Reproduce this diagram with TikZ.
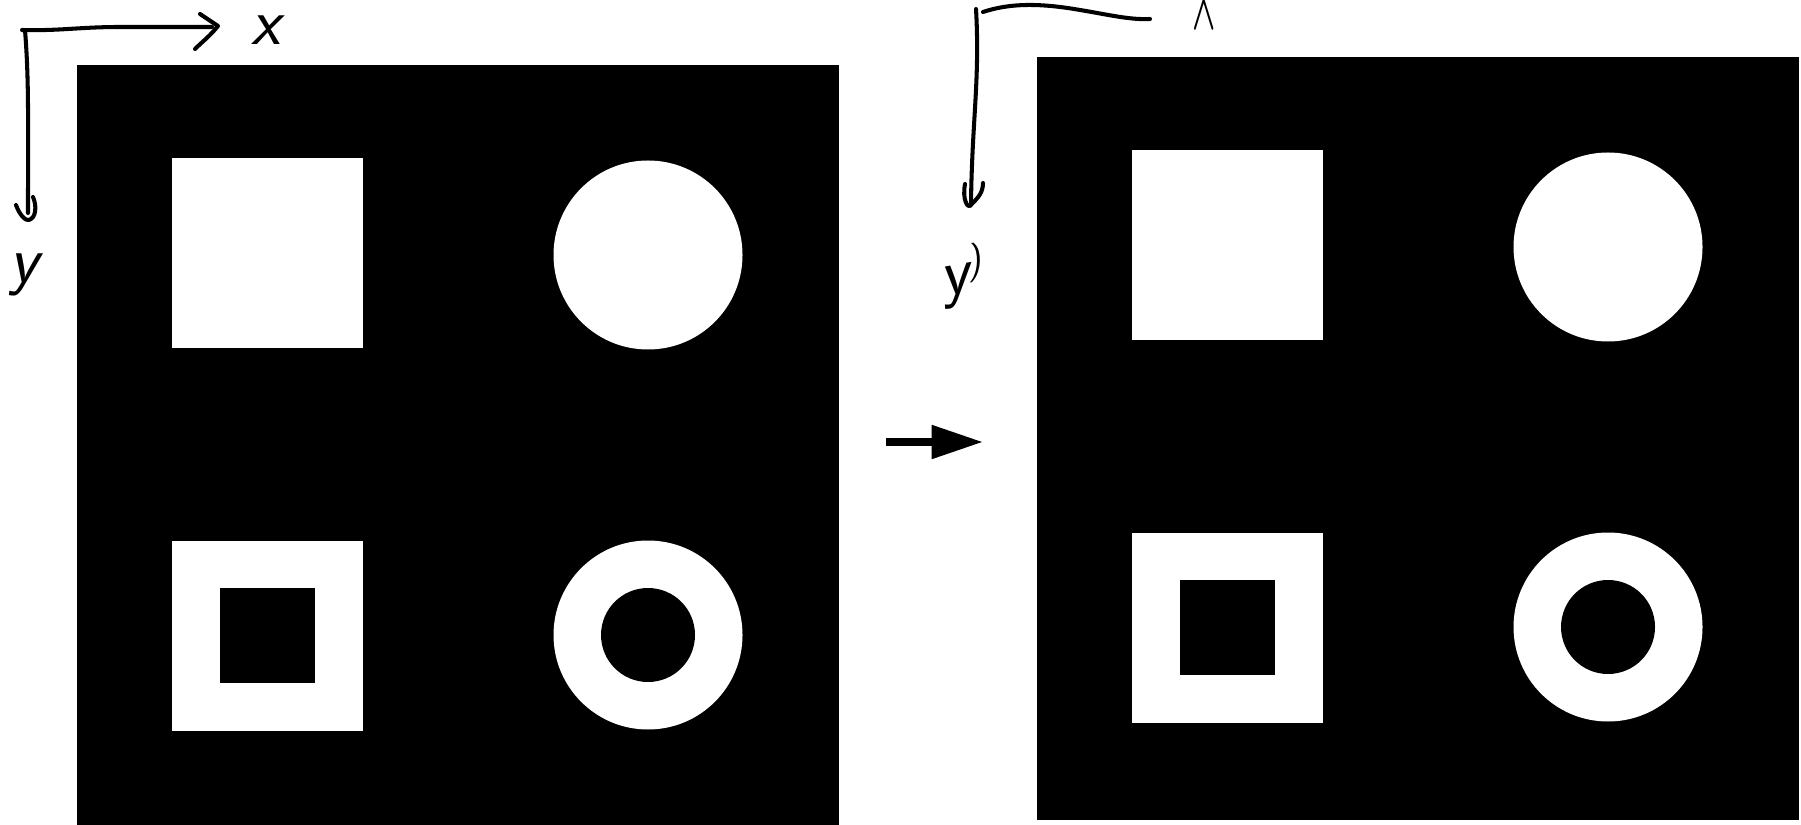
\documentclass[tikz,border=0pt]{standalone}
\usepackage{amsmath}
\usetikzlibrary{arrows.meta}
\begin{document}
\begin{tikzpicture}[x=0.01cm, y=-0.01cm, line cap=round, line join=round,
    ink/.style={line width=1.15pt},
    hole/.style={fill=white},
    plug/.style={fill=black},
    lbl/.style={font=\sffamily\slshape\fontsize{19}{19}\selectfont, inner sep=0pt},
    flow/.style={line width=2.3pt, line cap=butt,
      -{Triangle[length=14.3pt, width=9.8pt, line width=0pt]}}]
  \useasboundingbox (0,0) rectangle (1801,825);
  % 左图：原始图像与坐标轴
  \begin{scope}
    \fill[black] (77,65.5) rectangle (838.5,825);
    \fill[hole] (172,158.5) rectangle (363,348);
    \fill[hole] (648,255) circle[radius=94.5];
    \fill[hole] (172,541) rectangle (363,730.5);
    \fill[plug] (219.5,588) rectangle (315,683);
    \fill[hole] (648,635) circle[radius=94.5];
    \fill[plug] (648,635) circle[radius=47];
    \draw[ink] (22,30) .. controls (60,31) and (80,27) .. (120,27) -- (212,27);
    \draw[ink] (200,14) -- (218,26) .. controls (210,36) and (202,42) .. (195,49);
    \draw[ink] (25,30) .. controls (29,80) and (28,120) .. (28,213);
    \draw[ink] (16,205) .. controls (20,216) and (26,221) .. (29,220)
      .. controls (36,218) and (37,206) .. (33,197);
    \node[lbl] (xlab) at (266,30) {x};
    \node[lbl] (ylab) at (24,275) {y};
  \end{scope}
  % 中间的箭头
  \coordinate (src) at (886,442);
  \coordinate (dst) at (982,442);
  \draw[flow] (src) -- (dst);
  % 右图：变换后的图像与坐标轴
  \begin{scope}[shift={(960,-8)}]
    \fill[black] (77,65.5) rectangle (838.5,827.5);
    \fill[hole] (172,158.5) rectangle (363,348);
    \fill[hole] (648,255) circle[radius=94.5];
    \fill[hole] (172,541) rectangle (363,730.5);
    \fill[plug] (219.5,588) rectangle (315,683);
    \fill[hole] (648,635) circle[radius=94.5];
    \fill[plug] (648,635) circle[radius=47];
  \end{scope}
  \draw[ink] (983,12) .. controls (1010,3) and (1040,3) .. (1080,10)
    .. controls (1110,15) and (1130,20) .. (1150,19);
  \draw[ink] (976,9) .. controls (980,80) and (972,120) .. (971,203);
  \draw[ink] (965,184) .. controls (962,200) and (968,208) .. (970,206)
    .. controls (975,200) and (983,195) .. (983,183);
  \node[inner sep=0pt, xscale=0.6, font=\fontsize{14}{14}\selectfont] (xlabr) at (1204,15) {$\boldsymbol{\wedge}$};
  \node[lbl, rotate=10] (ylabr) at (962,276) {y\raisebox{5pt}{\fontsize{11}{11}\selectfont)}};
\end{tikzpicture}
\end{document}
